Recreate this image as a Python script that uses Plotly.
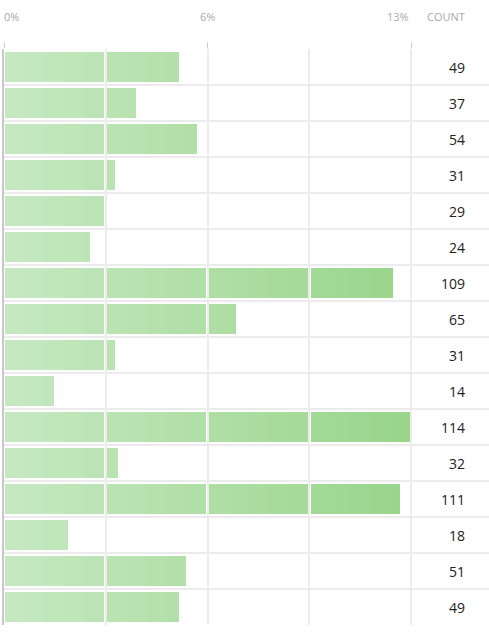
import plotly.graph_objects as go

counts = [49, 37, 54, 31, 29, 24, 109, 65, 31, 14, 114, 32, 111, 18, 51, 49]
header_count = "COUNT"

W, H = 489, 634
left, top, bottom = 4, 49, 9

total = sum(counts)
cmax = max(counts)
px_per = 407 / cmax                      # pixels per count, 0 -> 114 spans 407px
xmax = (W - left) / px_per

edges = [cmax * i / 4 for i in range(5)]  # segment edges / gridlines
gap = 1.5 / px_per                        # half-gap around gridlines
c0 = (199, 232, 194)                      # gradient start
c1 = (152, 213, 138)                      # gradient end
sub = 5                                   # colour bands per segment


def mix(t):
    return "rgb(%d,%d,%d)" % tuple(round(a + (b - a) * t) for a, b in zip(c0, c1))


rows = list(range(len(counts)))
fig = go.Figure()

for q in range(4):
    lo = edges[q] + (0.5 / px_per if q == 0 else gap)
    hi = edges[q + 1] - gap
    step = (hi - lo) / sub
    for s in range(sub):
        b0 = lo + s * step
        b1 = b0 + step
        bases, lens = [], []
        for c in counts:
            seg = min(c, b1) - b0
            if c - lo < 0.6 / px_per:   # hide slivers swallowed by the gap
                seg = 0
            bases.append(b0)
            lens.append(max(seg, 0))
        fig.add_trace(go.Bar(
            y=rows, x=lens, base=bases, orientation="h",
            marker_color=mix((b0 + b1) / 2 / cmax), marker_line_width=0,
            width=0.86, hoverinfo="skip", showlegend=False
        ))

ph = H - top - bottom
hdr_y = 1 + (top - 17) / ph
col_x = (467 - left) / (W - left)

# count column
for i, c in enumerate(counts):
    fig.add_annotation(x=col_x, xref="paper", y=i, yref="y",
                       text=str(c), showarrow=False, xanchor="right",
                       font=dict(size=14, color="#222222"))

# header labels
hdr = dict(size=11, color="#aaaaaa")
for v, anc in [(0, "left"), (edges[2], "center"), (edges[4], "right")]:
    fig.add_annotation(x=v, xref="x", y=hdr_y, yref="paper", yanchor="middle",
                       text="%d%%" % int(v / total * 100), showarrow=False,
                       xanchor=anc, xshift=-2 if anc == "left" else 0, font=hdr)
fig.add_annotation(x=col_x, xref="paper", y=hdr_y, yref="paper", yanchor="middle",
                   text=header_count, showarrow=False, xanchor="right", font=hdr)

fig.update_layout(
    width=W, height=H,
    margin=dict(l=left, r=0, t=top, b=bottom, pad=0),
    barmode="overlay", bargap=0,
    plot_bgcolor="white", paper_bgcolor="white",
    font=dict(family="Open Sans"),
    xaxis=dict(range=[0, xmax], side="top", tickvals=[edges[0], edges[2], edges[4]],
               showticklabels=False, ticks="outside", ticklen=6, tickwidth=1,
               tickcolor="#cccccc", showgrid=True, gridcolor="#ececec", gridwidth=2,
               minor=dict(tickvals=[edges[1], edges[3]], showgrid=True,
                          gridcolor="#ececec", gridwidth=2, ticks=""),
               zeroline=False, showline=False, fixedrange=True),
    yaxis=dict(range=[len(counts) - 0.5, -0.5], tickmode="linear", tick0=-0.5, dtick=1,
               showticklabels=False, showgrid=True, gridcolor="#ececec", gridwidth=2,
               zeroline=False, showline=True, linecolor="#c8c8c8", linewidth=2,
               fixedrange=True),
)

fig.write_html("out.html", config={"displayModeBar": False},
               post_script="document.body.style.margin='0';")
